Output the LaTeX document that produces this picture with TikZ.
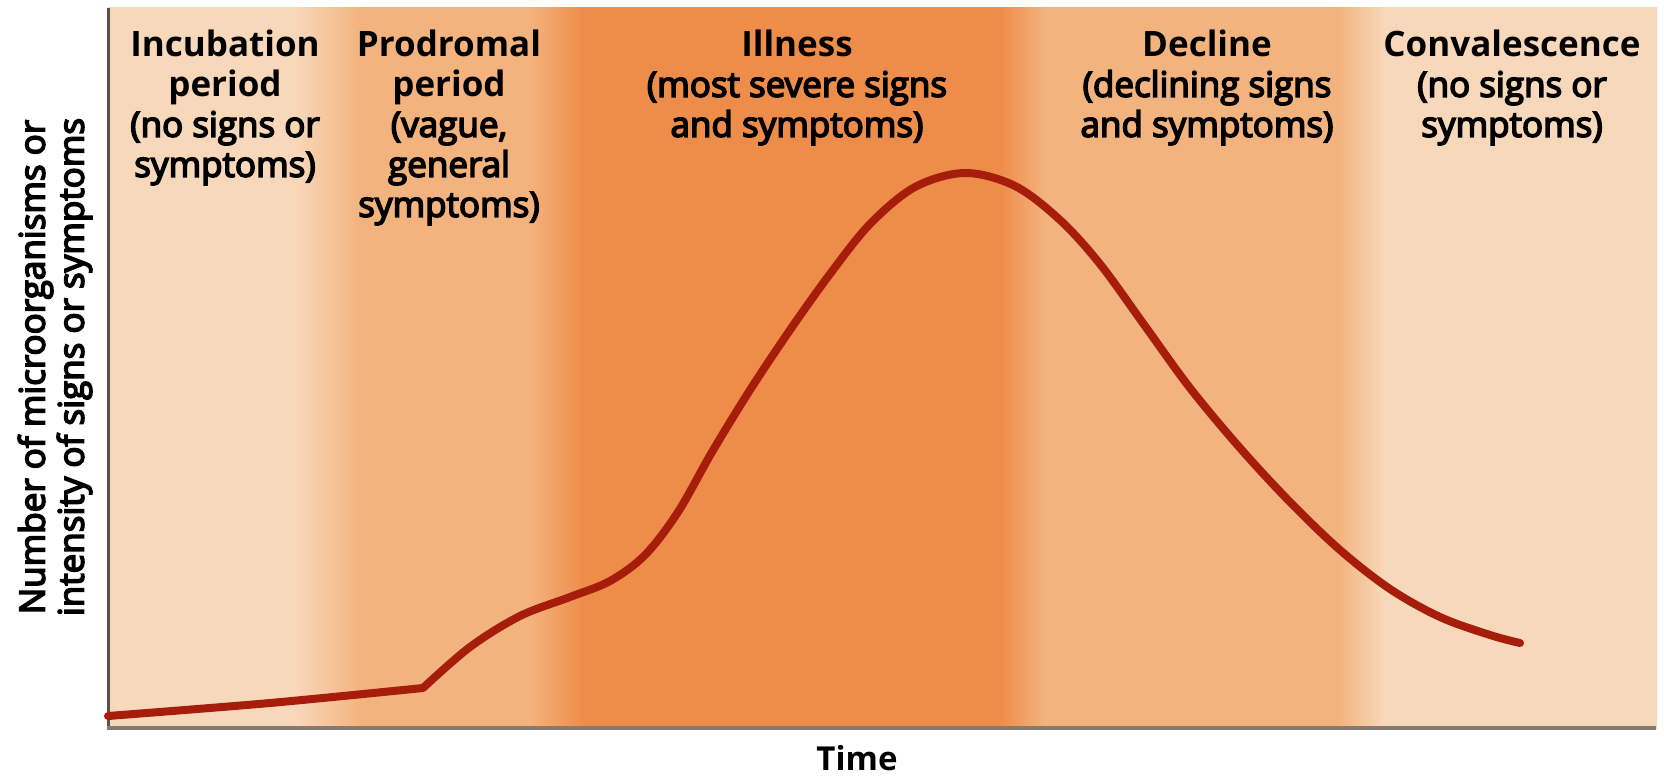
\documentclass[tikz,border=0pt]{standalone}
\usepackage{fontspec}
\setmainfont{Open Sans}
\newfontfamily\semi[FakeBold=4.5]{Open Sans}

\definecolor{lite}{HTML}{F8D8BA}
\definecolor{mid}{HTML}{F3B37E}
\definecolor{dark}{HTML}{EE8D4A}
\definecolor{curvered}{HTML}{A61E0B}
\definecolor{axisgray}{HTML}{5A514C}
\definecolor{basegray}{HTML}{867A72}

\begin{document}
\begin{tikzpicture}[x=1pt,y=-1pt,
    phase/.style={anchor=north,align=center,inner sep=0pt,font=\fontsize{35}{40}\selectfont},
    curve/.style={line width=8pt,color=curvered,line cap=round,line join=round}]

\useasboundingbox (0,0) rectangle (1664,776);

% phase bands, solid and blended
\foreach \a/\b/\ca/\cb in {108/295/lite/lite,295/360/lite/mid,360/529/mid/mid,529/582/mid/dark,
    582/1000/dark/dark,1000/1045/dark/mid,1045/1338/mid/mid,1338/1384/mid/lite,1384/1656/lite/lite}
{
    \shade[left color=\ca,right color=\cb] (\a,8) rectangle (\b+1,728);
}

% axes
\draw[line width=3pt,color=axisgray] (108,8) -- (108,728);
\draw[line width=4pt,color=basegray] (107,728) -- (1656,728);

% course of the disease
\draw[curve] plot[smooth,tension=0.5] coordinates {(108,716) (270,703) (423,688)}
    -- plot[smooth,tension=0.55] coordinates {(423,688) (470,647) (520,616) (570,597) (610,581)
    (645,555) (678,512) (712,452) (750,390) (790,330) (830,274) (870,224) (915,187) (965,173)
    (1015,186) (1060,220) (1100,264) (1145,326) (1190,388) (1240,448) (1290,502) (1340,550)
    (1390,589) (1440,617) (1490,635) (1520,643)};

% phase labels
\node[phase] (inc) at (225,30) {\bfseries Incubation\\\bfseries period\\{\semi (no signs or}\\{\semi symptoms)}};
\node[phase] (pro) at (449,30) {\bfseries Prodromal\\\bfseries period\\{\semi (vague,}\\{\semi general}\\{\semi symptoms)}};
\node[phase] (ill) at (797,30) {\bfseries Illness\\{\semi (most severe signs}\\{\semi and symptoms)}};
\node[phase] (dec) at (1207,30) {\bfseries Decline\\{\semi (declining signs}\\{\semi and symptoms)}};
\node[phase] (con) at (1512,30) {\bfseries Convalescence\\{\semi (no signs or}\\{\semi symptoms)}};

% axis labels
\node[rotate=90,align=center,inner sep=0pt,font=\fontsize{35}{39}\selectfont\semi] (ylab) at (55,367)
    {Number of microorganisms or\\intensity of signs or symptoms};
\node[inner sep=0pt,font=\fontsize{33}{40}\selectfont\bfseries] (time) at (857,758) {Time};

\end{tikzpicture}
\end{document}
